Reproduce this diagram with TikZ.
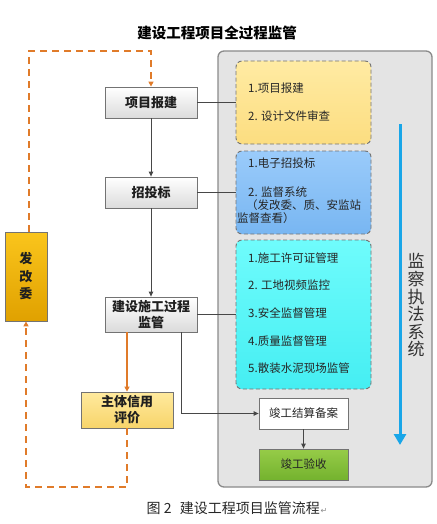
\documentclass[tikz,border=0pt]{standalone}
\usepackage{fontspec}
\setmainfont{Noto Sans CJK SC}
\newfontfamily\dejavu{DejaVu Sans}
\usetikzlibrary{arrows.meta}
\definecolor{panelgray}{HTML}{E4E4E4}
\definecolor{panelline}{HTML}{8A8A8A}
\definecolor{ylA}{HTML}{FFEBA3}
\definecolor{ylB}{HTML}{FCDD80}
\definecolor{blA}{HTML}{9ACBFA}
\definecolor{blB}{HTML}{78B6F2}
\definecolor{cyA}{HTML}{6FFCFC}
\definecolor{cyB}{HTML}{45EEF2}
\definecolor{grA}{HTML}{96CC48}
\definecolor{grB}{HTML}{74B22E}
\definecolor{orA}{HTML}{FAC51C}
\definecolor{orB}{HTML}{E0A100}
\definecolor{crA}{HTML}{FFEA9E}
\definecolor{crB}{HTML}{F7D46A}
\definecolor{orline}{HTML}{E07B2A}
\definecolor{arrblue}{HTML}{19A6E8}
\begin{document}
\begin{tikzpicture}[x=1pt,y=-1pt,
  lbl/.style={font=\fontsize{13}{16}\selectfont\bfseries, text=black!88},
  stage/.style={draw=black!55, line width=0.8pt, top color=white, bottom color=black!14,
    minimum width=92pt, inner sep=0pt, align=center, lbl},
  dbox/.style={draw=black!55, dash pattern=on 4pt off 2.5pt, line width=0.9pt, rounded corners=6pt,
    minimum width=135pt, inner sep=0pt},
  item/.style={anchor=west, inner sep=0pt, font=\fontsize{11.5}{13}\selectfont, text=black!85},
  plainbox/.style={draw=black!55, line width=0.8pt, minimum width=89pt, minimum height=31pt,
    inner sep=0pt, font=\fontsize{11.5}{13}\selectfont, text=black!85},
  arr/.style={draw=black!72, line width=0.9pt, -{Triangle[length=5pt,width=4.5pt]}},
  link/.style={draw=black!72, line width=0.9pt},
  odash/.style={draw=orline, line width=1.5pt, dash pattern=on 7pt off 5pt,
    -{Triangle[length=5pt,width=5pt]}},
  osolid/.style={draw=orline, line width=1.2pt, -{Triangle[length=5pt,width=5pt]}}
]
\path[use as bounding box] (0,0) rectangle (436,524);

% title
\node (title) at (217,33) {\fontsize{14.5}{16}\selectfont\bfseries 建设工程项目全过程监管};

% right panel
\node (panel) [draw=panelline, fill=panelgray, line width=1.3pt, rounded corners=6pt,
  minimum width=214pt, minimum height=436pt, inner sep=0pt] at (325,269) {};

% dashed boxes
\node (ybox) [dbox, top color=ylA, bottom color=ylB, minimum height=83pt] at (303.5,102.5) {};
\node (bbox) [dbox, top color=blA, bottom color=blB, minimum height=83pt] at (303.5,192.5) {};
\node (cbox) [dbox, top color=cyA, bottom color=cyB, minimum height=149pt] at (303.5,314.5) {};

\node (y1) [item] at (248,88) {1.项目报建};
\node (y2) [item] at (248,116) {2. 设计文件审查};
\node (b1) [item] at (248,163) {1.电子招投标};
\node (b2) [item] at (248,192) {2. 监督系统};
\node (b3) [item] at (246,205) {（发改委、质、安监站};
\node (b4) [item] at (237,218) {监督查看）};
\node (c1) [item] at (248,258) {1.施工许可证管理};
\node (c2) [item] at (248,285) {2. 工地视频监控};
\node (c3) [item] at (248,313) {3.安全监督管理};
\node (c4) [item] at (248,341) {4.质量监督管理};
\node (c5) [item] at (248,368) {5.散装水泥现场监管};

\node (jgjs) [plainbox, fill=white] at (303.5,413.5) {竣工结算备案};
\node (jgys) [plainbox, top color=grA, bottom color=grB] at (303.5,464.5) {竣工验收};

% blue arrow and vertical label
\coordinate (ba1) at (400,124);
\coordinate (ba2) at (400,445);
\draw[arrblue, line width=3pt, -{Triangle[length=11pt,width=12pt]}] (ba1) -- (ba2);
\node (jczf) [align=center, inner sep=0pt, text=black!80,
  font=\fontsize{17}{17.6}\selectfont] at (416,305.5) {监\\察\\执\\法\\系\\统};

% left stages
\node (xmbj) [stage, minimum height=31pt] at (151,102.5) {项目报建};
\node (ztb)  [stage, minimum height=31pt] at (151,192.5) {招投标};
\node (jssg) [stage, minimum height=35pt] at (151,314.5) {建设施工过程\\监管};
\node (ztxy) [stage, top color=crA, bottom color=crB, minimum height=36pt] at (127,410) {主体信用\\评价};
\node (fgw)  [draw=black!55, line width=0.8pt, top color=orA, bottom color=orB, minimum width=42pt,
  minimum height=89pt, inner sep=0pt, align=center,
  font=\fontsize{13}{17.5}\selectfont\bfseries, text=black!88] at (26,276.5) {发\\改\\委};

% connectors
\draw[arr] (xmbj) -- (ztb);
\draw[arr] (ztb) -- (jssg);
\draw[link] (xmbj.east) -- (xmbj.east -| ybox.west);
\draw[link] (ztb.east) -- (ztb.east -| bbox.west);
\draw[link] (jssg.east) -- (jssg.east -| cbox.west);
\draw[arr] ([xshift=30pt]jssg.south) |- (jgjs.west);
\draw[arr] (jgjs) -- (jgys);
\draw[osolid] (ztxy.north |- jssg.south) -- (ztxy.north);

\coordinate (lb) at (26,487);
\coordinate (lt) at (29,51);
\draw[odash] (ztxy.south) |- (lb) -- (fgw.south);
\draw[odash] ([xshift=3pt]fgw.north) -- (lt) -| (xmbj.north);

% caption
\node (cap) at (237,508) {\fontsize{14}{16}\selectfont\color{black!85}图 2\hspace{0.6em}建设工程项目监管流程\hspace{0.05em}{\dejavu\fontsize{8}{8}\selectfont\color{black!45}↵}};
\end{tikzpicture}
\end{document}
